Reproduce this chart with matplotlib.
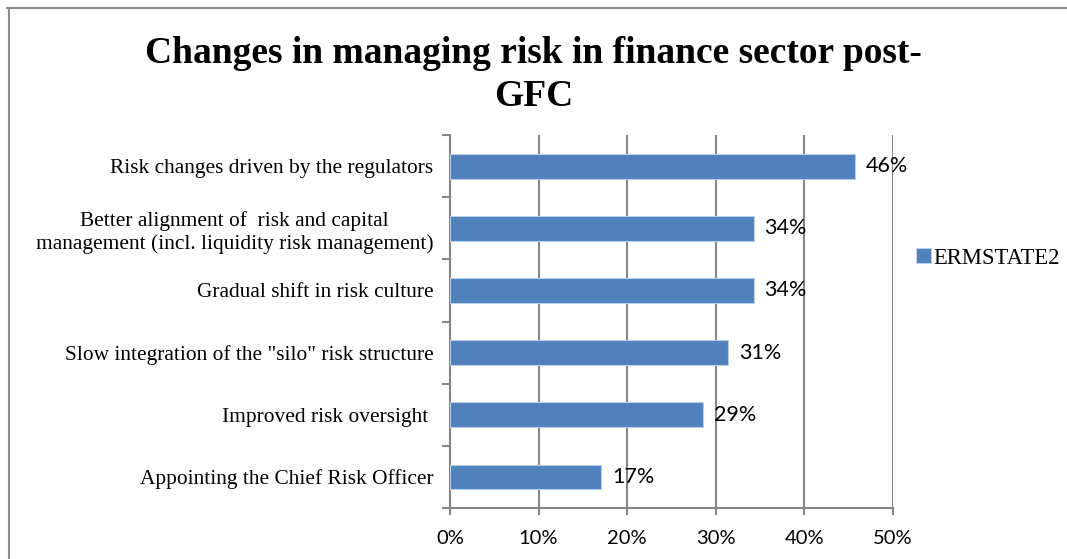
import numpy as np
import matplotlib
matplotlib.use("Agg")
from matplotlib import pyplot as plt
from matplotlib.ticker import FixedLocator, PercentFormatter

categories = [
    "Risk changes driven by the regulators",
    "Better alignment of  risk and capital\nmanagement (incl. liquidity risk management)",
    "Gradual shift in risk culture",
    'Slow integration of the "silo" risk structure',
    "Improved risk oversight ",
    "Appointing the Chief Risk Officer",
]
shares = [45.7, 34.3, 34.3, 31.4, 28.6, 17.1]
series_name = "ERMSTATE2"
x_ticks = [0, 10, 20, 30, 40, 50]

BAR = "#4F81BD"
GRID = "#868686"
SERIF = "Liberation Serif"
SANS = "Lato"

fig = plt.figure(figsize=(10.67, 5.59), dpi=100)
ax = fig.add_axes([0.4217, 0.0912, 0.8369 - 0.4217, 0.7585 - 0.0912])

y = np.arange(len(categories))
bars = ax.barh(y, shares, height=0.4, color=BAR, edgecolor="#B9CDE5",
               linewidth=0.8, label=series_name, zorder=3)

ax.set_xlim(0, 50)
ax.set_ylim(len(categories) - 0.5, -0.5)

ax.xaxis.set_major_locator(FixedLocator(x_ticks))
ax.xaxis.set_major_formatter(PercentFormatter(decimals=0))
ax.grid(axis="x", color=GRID, linewidth=1.5, zorder=0)
ax.tick_params(axis="x", length=5, width=1.5, color=GRID, pad=11,
               labelsize=14.5, labelcolor="black")
for lbl in ax.get_xticklabels():
    lbl.set_family(SANS)

# category labels on the major ticks, tick marks on the boundaries
ax.set_yticks(y)
ax.set_yticklabels(categories, fontsize=15.4, family=SERIF,
                   ha="right", multialignment="center")
ax.set_yticks(np.arange(len(categories) + 1) - 0.5, minor=True)
ax.tick_params(axis="y", which="major", length=0, pad=12)
ax.tick_params(axis="y", which="minor", length=6, width=1.5, color=GRID)

for side in ("top", "right"):
    ax.spines[side].set_visible(False)
for side in ("left", "bottom"):
    ax.spines[side].set_color(GRID)
    ax.spines[side].set_linewidth(1.5)

for b, v in zip(bars, shares):
    ax.text(v + 1.2, b.get_y() + b.get_height() / 2, f"{v:.0f}%",
            va="center", ha="left", fontsize=15.5, family=SANS)

fig.text(0.5, 0.866, "Changes in managing risk in finance sector post-\nGFC",
         ha="center", va="center", fontsize=27, fontweight="bold",
         family=SERIF, linespacing=1.3)

leg = fig.legend(handles=[bars], labels=[series_name], loc="center left",
                 bbox_to_anchor=(0.848, 0.538), frameon=False, handlelength=0.65,
                 handleheight=0.65, handletextpad=0.12, borderpad=0,
                 prop={"family": SERIF, "size": 16.3})

# outer chart border
fig.add_artist(plt.Line2D([0.007, 1.0], [0.986, 0.986], color="#8C8C8C",
                          linewidth=1.5, transform=fig.transFigure))
fig.add_artist(plt.Line2D([0.008, 0.008], [0.0, 0.986], color="#8C8C8C",
                          linewidth=1.5, transform=fig.transFigure))

fig.savefig("out.png", dpi=100)
